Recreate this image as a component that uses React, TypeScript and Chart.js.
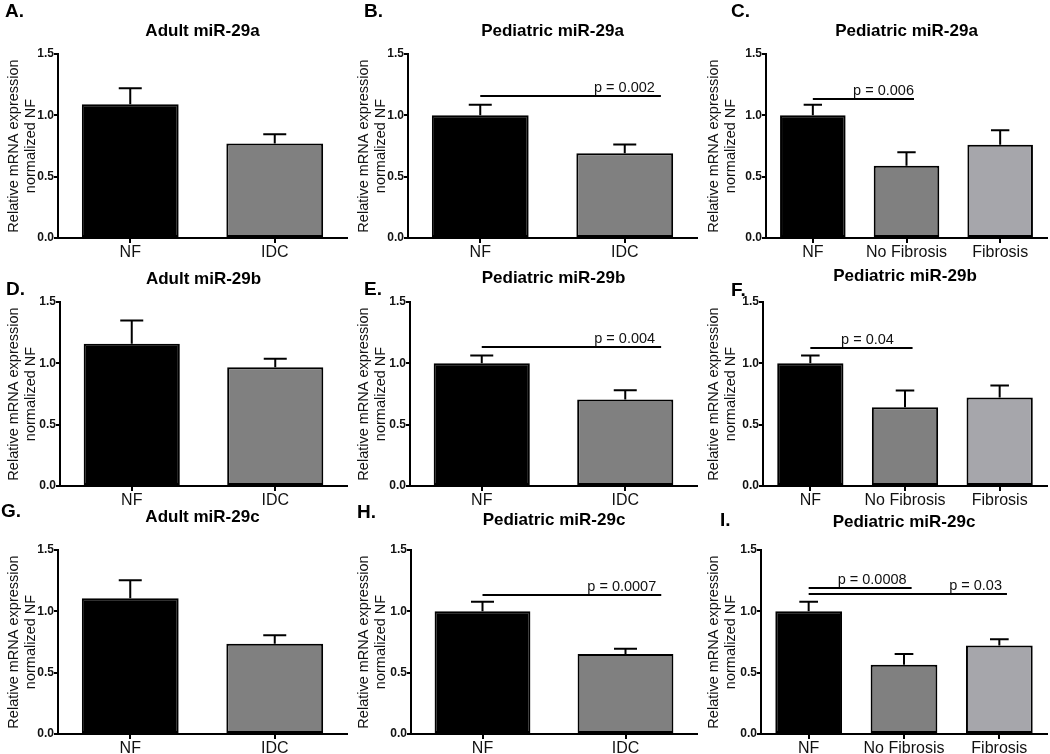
import React, { useEffect, useRef } from "react";
import { Chart, registerables } from "chart.js";

Chart.register(...registerables);

// ---------- data ----------
const twoGroups = ["NF", "IDC"];
const threeGroups = ["NF", "No Fibrosis", "Fibrosis"];
const yTickValues = [0, 0.5, 1.0, 1.5];
const yAxisTitle = ["Relative mRNA expression", "normalized NF"];

const panelLetters = ["A.", "B.", "C.", "D.", "E.", "F.", "G.", "H.", "I."];
const panelTitles = [
  "Adult miR-29a",
  "Pediatric miR-29a",
  "Pediatric miR-29a",
  "Adult miR-29b",
  "Pediatric miR-29b",
  "Pediatric miR-29b",
  "Adult miR-29c",
  "Pediatric miR-29c",
  "Pediatric miR-29c",
];

// means and SEM (upper error) per panel
const adult29aMean = [1.09, 0.77];
const adult29aSem = [0.13, 0.075];
const ped29aMean = [1.0, 0.69];
const ped29aSem = [0.087, 0.072];
const ped29aFibMean = [1.0, 0.59, 0.76];
const ped29aFibSem = [0.087, 0.11, 0.118];

const adult29bMean = [1.16, 0.968];
const adult29bSem = [0.19, 0.07];
const ped29bMean = [1.0, 0.705];
const ped29bSem = [0.064, 0.076];
const ped29bFibMean = [1.0, 0.643, 0.722];
const ped29bFibSem = [0.064, 0.136, 0.097];

const adult29cMean = [1.107, 0.735];
const adult29cSem = [0.146, 0.07];
const ped29cMean = [1.0, 0.653];
const ped29cSem = [0.079, 0.041];
const ped29cFibMean = [1.0, 0.564, 0.721];
const ped29cFibSem = [0.079, 0.089, 0.052];

// significance comparisons: group indices, bracket height (data units), label
const ped29aSig = [{ from: 0, to: 1, y: 1.157, label: "p = 0.002" }];
const ped29aFibSig = [{ from: 0, to: 1, y: 1.133, label: "p = 0.006" }];
const ped29bSig = [{ from: 0, to: 1, y: 1.131, label: "p = 0.004" }];
const ped29bFibSig = [{ from: 0, to: 1, y: 1.126, label: "p = 0.04" }];
const ped29cSig = [{ from: 0, to: 1, y: 1.133, label: "p = 0.0007" }];
const ped29cFibSig = [
  { from: 0, to: 1, y: 1.187, label: "p = 0.0008" },
  { from: 0, to: 2, y: 1.139, label: "p = 0.03" },
];

const groupColors: Record<string, string> = {
  NF: "#000000",
  IDC: "#808080",
  "No Fibrosis": "#808080",
  Fibrosis: "#a6a6ab",
};

type Sig = { from: number; to: number; y: number; label: string };

const panelData: { cats: string[]; mean: number[]; sem: number[]; sig: Sig[] }[] = [
  { cats: twoGroups, mean: adult29aMean, sem: adult29aSem, sig: [] },
  { cats: twoGroups, mean: ped29aMean, sem: ped29aSem, sig: ped29aSig },
  { cats: threeGroups, mean: ped29aFibMean, sem: ped29aFibSem, sig: ped29aFibSig },
  { cats: twoGroups, mean: adult29bMean, sem: adult29bSem, sig: [] },
  { cats: twoGroups, mean: ped29bMean, sem: ped29bSem, sig: ped29bSig },
  { cats: threeGroups, mean: ped29bFibMean, sem: ped29bFibSem, sig: ped29bFibSig },
  { cats: twoGroups, mean: adult29cMean, sem: adult29cSem, sig: [] },
  { cats: twoGroups, mean: ped29cMean, sem: ped29cSem, sig: ped29cSig },
  { cats: threeGroups, mean: ped29cFibMean, sem: ped29cFibSem, sig: ped29cFibSig },
];

// ---------- layout (positions / styles) ----------
const FONT = "'Liberation Sans', Arial, Helvetica, sans-serif";
const CW = 350;
const CH = 258;
const AREA_TOP = 54;
const AREA_BOTTOM = 238;
const AREA_RIGHT = 347;
const rowTops = [0, 248, 496];

const layouts = [
  { left: 58, titleY: 31.5, letterX: 5, letterY: 17, sigAlign: "end", sigShift: 0 },
  { left: 58, titleY: 31, letterX: 14, letterY: 17, sigAlign: "end", sigShift: -6 },
  { left: 66, titleY: 31.5, letterX: 31, letterY: 17, sigAlign: "end", sigShift: 0 },
  { left: 60, titleY: 31, letterX: 6, letterY: 47, sigAlign: "end", sigShift: 0 },
  { left: 60, titleY: 30, letterX: 14, letterY: 47, sigAlign: "end", sigShift: -6 },
  { left: 63, titleY: 28, letterX: 31, letterY: 48, sigAlign: "center", sigShift: 6 },
  { left: 58, titleY: 21, letterX: 1, letterY: 21, sigAlign: "end", sigShift: 0 },
  { left: 61, titleY: 24, letterX: 7, letterY: 22, sigAlign: "end", sigShift: -5 },
  { left: 61, titleY: 26, letterX: 20, letterY: 30, sigAlign: "end", sigShift: -5 },
];

function Panel({ index }: { index: number }) {
  const ref = useRef<HTMLCanvasElement>(null);
  const d = panelData[index];
  const L = layouts[index];
  const col = index % 3;
  const row = Math.floor(index / 3);

  useEffect(() => {
    const n = d.cats.length;
    const ext = n === 2 ? 0.25 : 0.08;
    const overlay = {
      id: "overlay" + index,
      afterDatasetsDraw(chart: any) {
        const ctx = chart.ctx as CanvasRenderingContext2D;
        const meta = chart.getDatasetMeta(0);
        const ys = chart.scales.y;
        const xs = chart.scales.x;
        const area = chart.chartArea;
        ctx.save();
        ctx.strokeStyle = "#000";
        ctx.lineWidth = 2;
        // error bars (upper only)
        meta.data.forEach((bar: any, i: number) => {
          const top = ys.getPixelForValue(d.mean[i] + d.sem[i]);
          const half = Math.min(11.5, bar.width * 0.14);
          ctx.beginPath();
          ctx.moveTo(bar.x, bar.y);
          ctx.lineTo(bar.x, top);
          ctx.moveTo(bar.x - half, top);
          ctx.lineTo(bar.x + half, top);
          ctx.stroke();
        });
        // significance lines
        ctx.fillStyle = "#111";
        ctx.font = `14.5px ${FONT}`;
        ctx.textBaseline = "alphabetic";
        d.sig.forEach((s) => {
          const x0 = xs.getPixelForValue(s.from);
          const x1 = xs.getPixelForValue(s.to + ext);
          const y = Math.round(ys.getPixelForValue(s.y));
          ctx.beginPath();
          ctx.moveTo(x0, y);
          ctx.lineTo(x1, y);
          ctx.stroke();
          if (L.sigAlign === "center") {
            ctx.textAlign = "center";
            ctx.fillText(s.label, (x0 + x1) / 2 + L.sigShift, y - 4);
          } else {
            ctx.textAlign = "right";
            ctx.fillText(s.label, x1 + L.sigShift, y - 4);
          }
        });
        // title
        ctx.fillStyle = "#000";
        ctx.font = `bold 17px ${FONT}`;
        ctx.textAlign = "center";
        ctx.textBaseline = "middle";
        ctx.fillText(panelTitles[index], (area.left + area.right) / 2, L.titleY);
        // panel letter
        ctx.font = `bold 19px ${FONT}`;
        ctx.textAlign = "left";
        ctx.textBaseline = "alphabetic";
        ctx.fillText(panelLetters[index], L.letterX, L.letterY);
        ctx.restore();
      },
    };

    const chart = new Chart(ref.current as HTMLCanvasElement, {
      type: "bar",
      data: {
        labels: d.cats,
        datasets: [
          {
            data: d.mean,
            backgroundColor: d.cats.map((c) => groupColors[c]),
            borderColor: "#000",
            borderWidth: 2,
            borderSkipped: false,
            barPercentage: n === 2 ? 0.67 : 0.7,
            categoryPercentage: 1,
          },
        ],
      },
      options: {
        responsive: false,
        animation: false,
        devicePixelRatio: 1,
        layout: { padding: { left: 0, right: CW - AREA_RIGHT, top: AREA_TOP, bottom: 0 } },
        plugins: {
          legend: { display: false },
          tooltip: { enabled: false },
          title: { display: false },
        },
        scales: {
          x: {
            type: "category",
            offset: true,
            grid: {
              display: true,
              drawOnChartArea: false,
              drawTicks: true,
              tickLength: 5,
              color: "#000",
              lineWidth: 2,
              offset: false,
            },
            border: { display: true, color: "#000", width: 2 },
            ticks: {
              color: "#111",
              font: { family: FONT, size: 16 },
              padding: 0,
              maxRotation: 0,
              autoSkip: false,
            },
            afterFit: (s: any) => {
              s.height = CH - AREA_BOTTOM;
            },
          },
          y: {
            min: 0,
            max: 1.5,
            afterBuildTicks: (s: any) => {
              s.ticks = yTickValues.map((v) => ({ value: v }));
            },
            grid: {
              display: true,
              drawOnChartArea: false,
              drawTicks: true,
              tickLength: 4,
              color: "#000",
              lineWidth: 2,
            },
            border: { display: true, color: "#000", width: 2 },
            ticks: {
              color: "#111",
              font: { family: FONT, size: 12, weight: "bold" },
              padding: 0,
              callback: (v: any) => Number(v).toFixed(1),
            },
            title: {
              display: true,
              text: yAxisTitle,
              color: "#111",
              font: { family: FONT, size: 14.5 },
              padding: { top: 5, bottom: 0 },
            },
            afterFit: (s: any) => {
              s.width = L.left;
            },
          },
        },
      } as any,
      plugins: [overlay],
    });
    return () => chart.destroy();
  }, []);

  return (
    <canvas
      ref={ref}
      width={CW}
      height={CH}
      style={{ position: "absolute", left: col * CW, top: rowTops[row], width: CW, height: CH }}
    />
  );
}

export default function App() {
  return (
    <div
      style={{
        position: "fixed",
        left: 0,
        top: 0,
        width: 1050,
        height: 754,
        background: "#fff",
        overflow: "hidden",
      }}
    >
      {panelData.map((_, i) => (
        <Panel key={i} index={i} />
      ))}
    </div>
  );
}
